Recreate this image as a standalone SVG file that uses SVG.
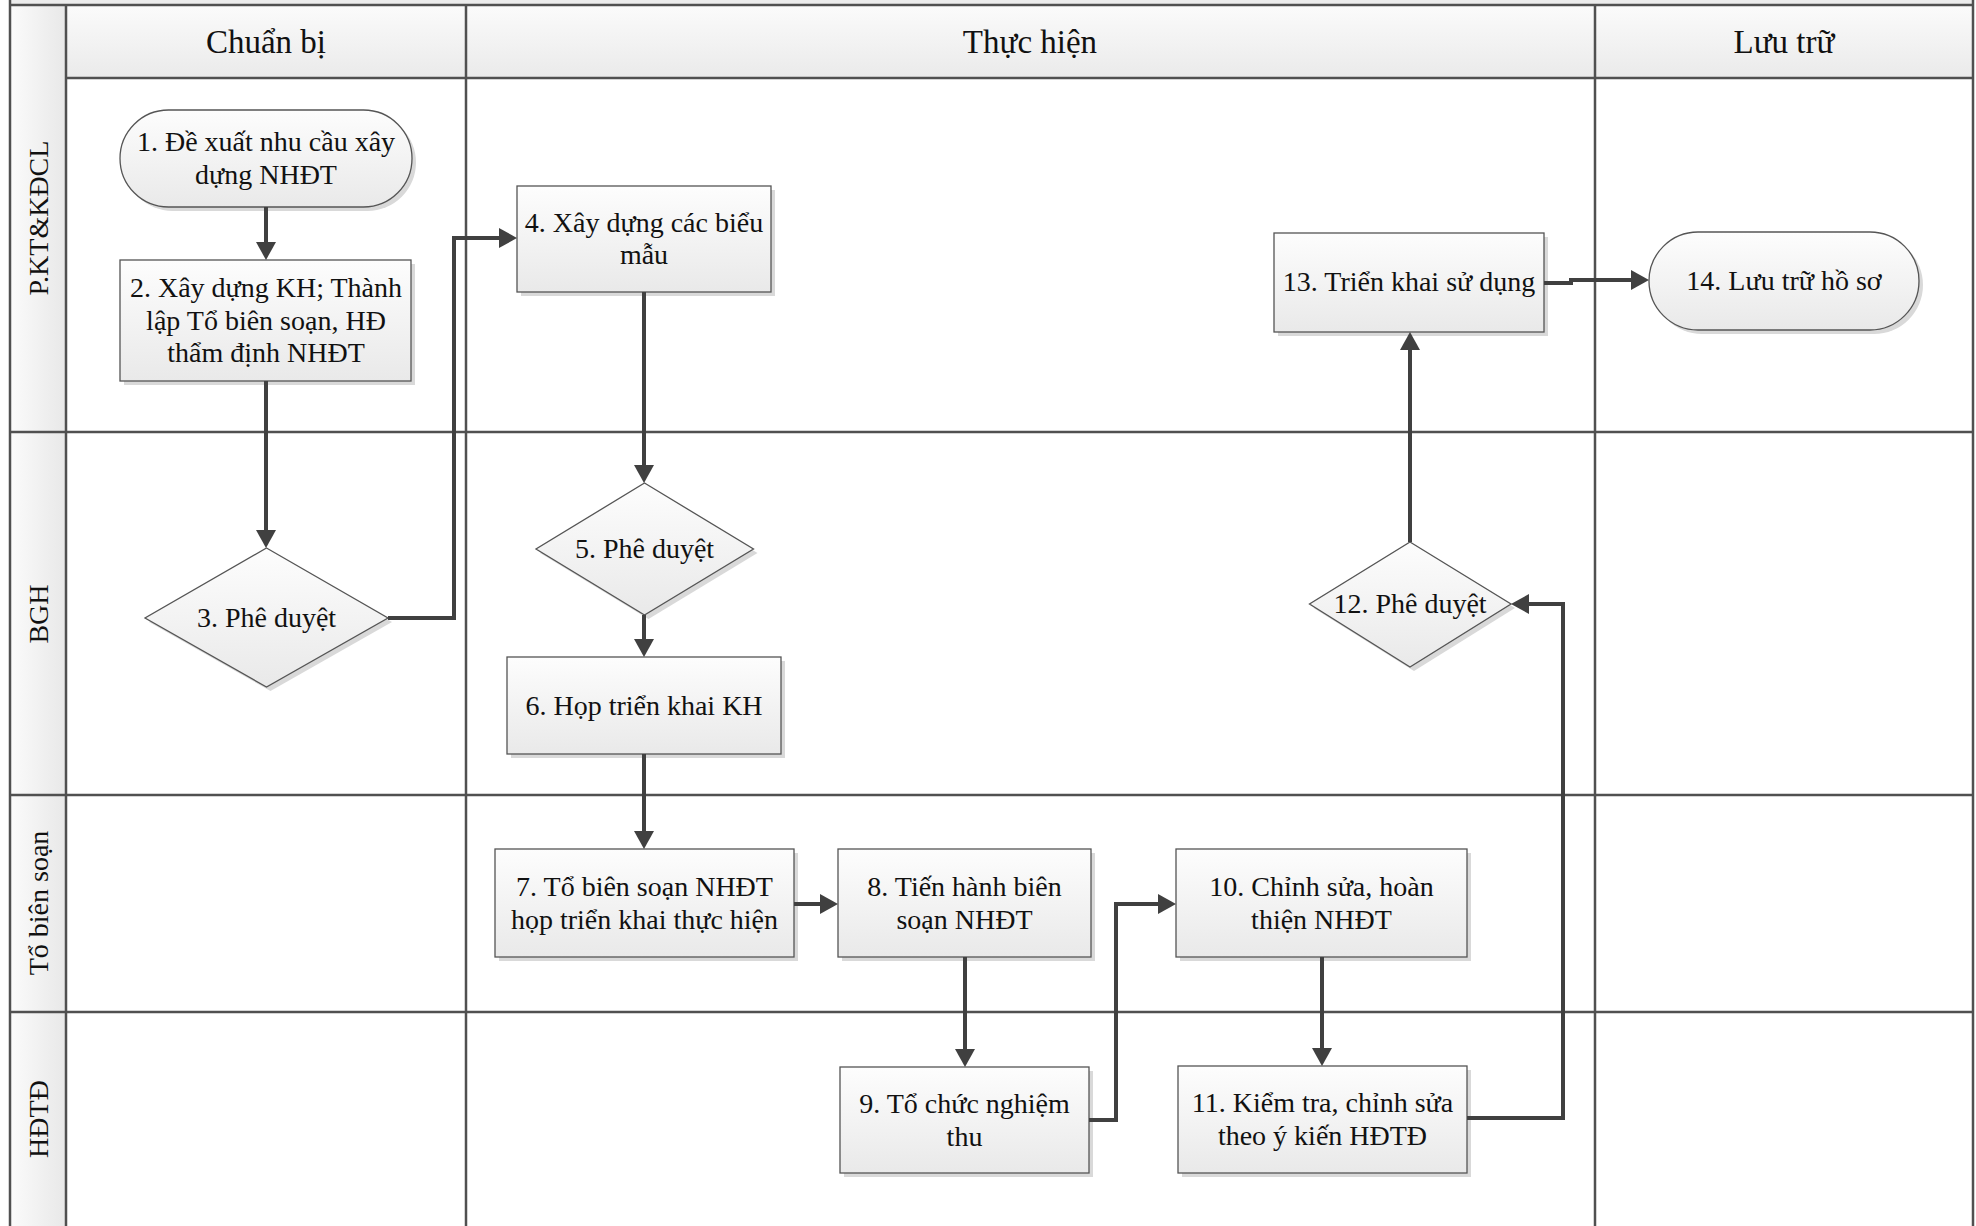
<svg xmlns="http://www.w3.org/2000/svg" width="1976" height="1226" viewBox="0 0 1976 1226">
<defs>
<linearGradient id="gNode" x1="0" y1="0" x2="0" y2="1">
<stop offset="0" stop-color="#fdfdfd"/>
<stop offset="1" stop-color="#e9e9e9"/>
</linearGradient>
<linearGradient id="gHead" x1="0" y1="0" x2="0" y2="1">
<stop offset="0" stop-color="#fbfbfb"/>
<stop offset="1" stop-color="#eaeaea"/>
</linearGradient>
<linearGradient id="gLane" x1="0" y1="0" x2="1" y2="0">
<stop offset="0" stop-color="#fbfbfb"/>
<stop offset="1" stop-color="#e8e8e8"/>
</linearGradient>
<marker id="arr" markerWidth="20" markerHeight="20" refX="8" refY="10" orient="auto" markerUnits="userSpaceOnUse">
<path d="M0,0 L18,10 L0,20 z" fill="#404040"/>
</marker>
<style>
.grid{stroke:#505050;stroke-width:2.5;fill:none}
.node{fill:url(#gNode);stroke:#555;stroke-width:1.3}
.shadow{fill:#d9d9d9}
.t{font-family:"Liberation Serif","Times New Roman",serif;font-size:28px;fill:#111;text-anchor:middle}
.h{font-family:"Liberation Serif","Times New Roman",serif;font-size:33px;fill:#111;text-anchor:middle}
.lane{font-family:"Liberation Serif","Times New Roman",serif;font-size:28px;fill:#111;text-anchor:middle}
.conn{stroke:#404040;stroke-width:4;fill:none;marker-end:url(#arr)}
</style>
</defs>
<rect x="0" y="0" width="1976" height="1226" fill="#ffffff"/>
<g id="pool">
<rect x="10" y="0" width="1963" height="5" fill="#ececec"/>
<rect x="10" y="5" width="56" height="1221" fill="url(#gLane)"/>
<rect x="66" y="5" width="1907" height="73" fill="url(#gHead)"/>
<path class="grid" d="M10 0V1226M66 5V1226M466 5V1226M1595 5V1226M1973 0V1226M10 5H1973M66 78H1973M10 432H1973M10 795H1973M10 1012H1973"/>
</g>
<g id="headers">
<text class="h" x="266" y="53">Chuẩn bị</text>
<text class="h" x="1030" y="53">Thực hiện</text>
<text class="h" x="1784" y="53">Lưu trữ</text>
</g>
<g id="lanes">
<text class="lane" transform="translate(48,218) rotate(-90)">P.KT&amp;KĐCL</text>
<text class="lane" transform="translate(48,614) rotate(-90)">BGH</text>
<text class="lane" transform="translate(48,903) rotate(-90)">Tổ biên soạn</text>
<text class="lane" transform="translate(48,1119) rotate(-90)">HĐTĐ</text>
</g>
<g id="n1">
<rect class="shadow" x="124" y="114" width="292" height="97" rx="48.5"/>
<rect class="node" x="120" y="110" width="292" height="97" rx="48.5"/>
<text class="t" x="266" y="151">1. Đề xuất nhu cầu xây</text>
<text class="t" x="266" y="184">dựng NHĐT</text>
</g>
<g id="n2">
<rect class="shadow" x="124" y="264" width="291" height="121"/>
<rect class="node" x="120" y="260" width="291" height="121"/>
<text class="t" x="266" y="297">2. Xây dựng KH; Thành</text>
<text class="t" x="266" y="330">lập Tổ biên soạn, HĐ</text>
<text class="t" x="266" y="362">thẩm định NHĐT</text>
</g>
<g id="n3">
<polygon class="shadow" points="270.5,552 392,622 270.5,691 149,622"/>
<polygon class="node" points="266.5,548 388,618 266.5,687 145,618"/>
<text class="t" x="266.5" y="627">3. Phê duyệt</text>
</g>
<g id="n4">
<rect class="shadow" x="521" y="190" width="254" height="106"/>
<rect class="node" x="517" y="186" width="254" height="106"/>
<text class="t" x="644" y="232">4. Xây dựng các biểu</text>
<text class="t" x="644" y="264">mẫu</text>
</g>
<g id="n5">
<polygon class="shadow" points="648.5,487 757.5,553 648.5,619 540,553"/>
<polygon class="node" points="644.5,483 753.5,549 644.5,615 536,549"/>
<text class="t" x="644.5" y="558">5. Phê duyệt</text>
</g>
<g id="n6">
<rect class="shadow" x="511" y="661" width="274" height="97"/>
<rect class="node" x="507" y="657" width="274" height="97"/>
<text class="t" x="644" y="715">6. Họp triển khai KH</text>
</g>
<g id="n7">
<rect class="shadow" x="499" y="853" width="299" height="108"/>
<rect class="node" x="495" y="849" width="299" height="108"/>
<text class="t" x="644.5" y="896">7. Tổ biên soạn NHĐT</text>
<text class="t" x="644.5" y="929">họp triển khai thực hiện</text>
</g>
<g id="n8">
<rect class="shadow" x="842" y="853" width="253" height="108"/>
<rect class="node" x="838" y="849" width="253" height="108"/>
<text class="t" x="964.5" y="896">8. Tiến hành biên</text>
<text class="t" x="964.5" y="929">soạn NHĐT</text>
</g>
<g id="n9">
<rect class="shadow" x="844" y="1071" width="249" height="106"/>
<rect class="node" x="840" y="1067" width="249" height="106"/>
<text class="t" x="964.5" y="1113">9. Tổ chức nghiệm</text>
<text class="t" x="964.5" y="1146">thu</text>
</g>
<g id="n10">
<rect class="shadow" x="1180" y="853" width="291" height="108"/>
<rect class="node" x="1176" y="849" width="291" height="108"/>
<text class="t" x="1321.5" y="896">10. Chỉnh sửa, hoàn</text>
<text class="t" x="1321.5" y="929">thiện NHĐT</text>
</g>
<g id="n11">
<rect class="shadow" x="1182" y="1070" width="289" height="107"/>
<rect class="node" x="1178" y="1066" width="289" height="107"/>
<text class="t" x="1322.5" y="1112">11. Kiểm tra, chỉnh sửa</text>
<text class="t" x="1322.5" y="1145">theo ý kiến HĐTĐ</text>
</g>
<g id="n12">
<polygon class="shadow" points="1414,546 1515,608 1414,671 1313.5,608"/>
<polygon class="node" points="1410,542 1511,604 1410,667 1309.5,604"/>
<text class="t" x="1410" y="613">12. Phê duyệt</text>
</g>
<g id="n13">
<rect class="shadow" x="1278" y="237" width="270" height="99"/>
<rect class="node" x="1274" y="233" width="270" height="99"/>
<text class="t" x="1409" y="291">13. Triển khai sử dụng</text>
</g>
<g id="n14">
<rect class="shadow" x="1653" y="236" width="270" height="98" rx="49"/>
<rect class="node" x="1649" y="232" width="270" height="98" rx="49"/>
<text class="t" x="1784" y="290">14. Lưu trữ hồ sơ</text>
</g>
<g id="connectors">
<path class="conn" d="M266 207V250"/>
<path class="conn" d="M266 381V538"/>
<path class="conn" d="M388 618H454V238H507"/>
<path class="conn" d="M644 292V473"/>
<path class="conn" d="M644 615V647"/>
<path class="conn" d="M644 754V839"/>
<path class="conn" d="M794 904H828"/>
<path class="conn" d="M965 957V1057"/>
<path class="conn" d="M1089 1120H1116V904H1166"/>
<path class="conn" d="M1322 957V1056"/>
<path class="conn" d="M1467 1118H1563V604H1521"/>
<path class="conn" d="M1410 542V342"/>
<path class="conn" d="M1544 283H1571V280H1639"/>
</g>
</svg>
